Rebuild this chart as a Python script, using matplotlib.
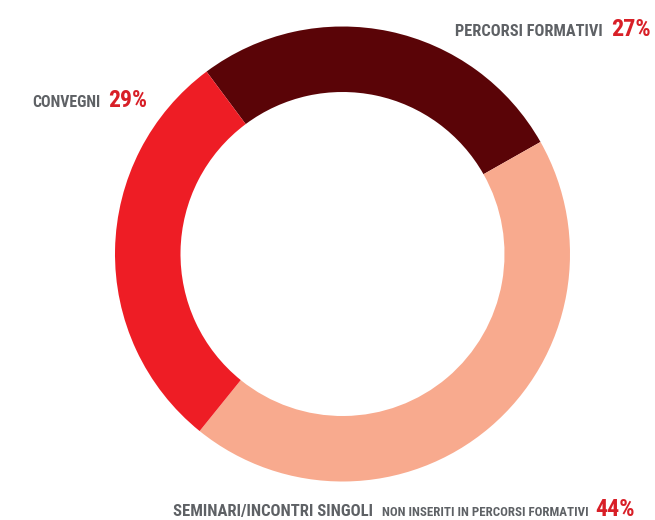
import matplotlib
matplotlib.use('Agg')
import matplotlib.pyplot as plt
from matplotlib import font_manager

# Tipologia di attività formativa (quota sul totale)
categories = ["PERCORSI FORMATIVI", "SEMINARI/INCONTRI SINGOLI", "CONVEGNI"]
subtitles = ["", "NON INSERITI IN PERCORSI FORMATIVI", ""]
shares = [27, 44, 29]
colors = ["#5a0407", "#f8aa8e", "#ee1d25"]

GRAY = "#5e6165"
RED = "#d81f27"

# pick a narrow face if one is available
fonts = font_manager.fontManager.ttflist
names = {f.name for f in fonts}
FONT = dict(family="DejaVu Sans", stretch="normal")
for cand in ["Roboto Condensed", "Open Sans Condensed", "Liberation Sans Narrow",
             "Noto Sans Condensed", "DejaVu Sans Condensed"]:
    if cand in names:
        FONT = dict(family=cand, stretch="normal")
        break
else:
    if any(f.name == "DejaVu Sans" and f.stretch == "condensed" for f in fonts):
        FONT = dict(family="DejaVu Sans", stretch="condensed")

fig = plt.figure(figsize=(6.55, 5.2), dpi=100)
ax = fig.add_axes([0, 0, 1, 1])

# ring, drawn clockwise starting from the upper-left boundary
ax.pie(shares, colors=colors, startangle=126.7, counterclock=False,
       center=(342.5, 266), radius=227.5,
       wedgeprops=dict(width=65.5, linewidth=0))
ax.set_xlim(0, 655)
ax.set_ylim(0, 520)
ax.set_aspect('equal')
ax.axis('off')

renderer = fig.canvas.get_renderer()


def fit_text(x0, x1, y, s, color):
    # text piece stretched over [x0, x1] (pixels from the left), baseline at y
    t = ax.text(x0, 520 - y, s, ha='left', va='baseline', fontsize=10,
                color=color, fontweight='bold', **FONT)
    w = t.get_window_extent(renderer).width
    t.set_fontsize(10 * (x1 - x0) / w)
    return t


# percorsi formativi, top right
fit_text(455, 603, 36, categories[0], GRAY)
fit_text(611, 651, 36, f"{shares[0]}%", RED)

# convegni, left
fit_text(32, 100, 107, categories[2], GRAY)
fit_text(108, 147, 107, f"{shares[2]}%", RED)

# seminari, bottom
fit_text(173, 373, 516, categories[1], GRAY)
fit_text(382, 588, 516, subtitles[1], GRAY)
fit_text(595, 635, 516, f"{shares[1]}%", RED)

fig.savefig("out.png", dpi=100)
